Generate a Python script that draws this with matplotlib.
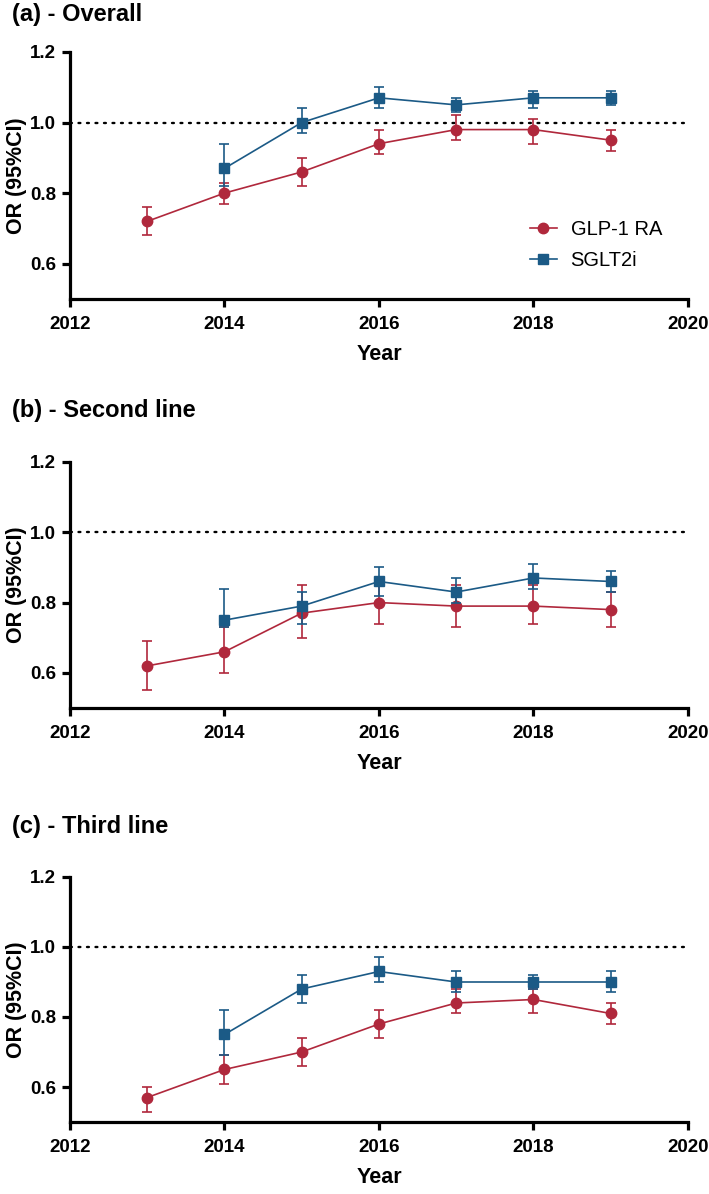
import matplotlib
matplotlib.use('Agg')
import matplotlib.pyplot as plt
from matplotlib.lines import Line2D

plt.rcParams['font.family'] = ['Liberation Sans', 'DejaVu Sans']

RED = '#B0283C'
BLUE = '#1B5A86'

panel_titles = ['(a) - Overall', '(b) - Second line', '(c) - Third line']

glp_years = [2013, 2014, 2015, 2016, 2017, 2018, 2019]
sglt_years = [2014, 2015, 2016, 2017, 2018, 2019]

# OR, lower CI, upper CI per panel
glp_or = [
    [0.72, 0.80, 0.86, 0.94, 0.98, 0.98, 0.95],
    [0.62, 0.66, 0.77, 0.80, 0.79, 0.79, 0.78],
    [0.57, 0.65, 0.70, 0.78, 0.84, 0.85, 0.81],
]
glp_lo = [
    [0.68, 0.77, 0.82, 0.91, 0.95, 0.94, 0.92],
    [0.55, 0.60, 0.70, 0.74, 0.73, 0.74, 0.73],
    [0.53, 0.61, 0.66, 0.74, 0.81, 0.81, 0.78],
]
glp_hi = [
    [0.76, 0.83, 0.90, 0.98, 1.02, 1.01, 0.98],
    [0.69, 0.73, 0.85, 0.87, 0.85, 0.85, 0.83],
    [0.60, 0.69, 0.74, 0.82, 0.88, 0.88, 0.84],
]
sglt_or = [
    [0.87, 1.00, 1.07, 1.05, 1.07, 1.07],
    [0.75, 0.79, 0.86, 0.83, 0.87, 0.86],
    [0.75, 0.88, 0.93, 0.90, 0.90, 0.90],
]
sglt_lo = [
    [0.82, 0.97, 1.04, 1.03, 1.04, 1.05],
    [0.73, 0.74, 0.82, 0.80, 0.84, 0.83],
    [0.69, 0.84, 0.90, 0.87, 0.88, 0.87],
]
sglt_hi = [
    [0.94, 1.04, 1.10, 1.07, 1.09, 1.09],
    [0.84, 0.83, 0.90, 0.87, 0.91, 0.89],
    [0.82, 0.92, 0.97, 0.93, 0.92, 0.93],
]

x_ticks = [2012, 2014, 2016, 2018, 2020]
y_ticks = [0.6, 0.8, 1.0, 1.2]

fig = plt.figure(figsize=(7.09, 11.94), dpi=100)

# axes boxes in figure fractions: left, bottom, width, height
boxes = [
    [0.0987, 0.7496, 0.8716, 0.2069],
    [0.0987, 0.4070, 0.8716, 0.2061],
    [0.0987, 0.0603, 0.8716, 0.2052],
]
title_y = [1 - 15 / 1194, 1 - 411 / 1194, 1 - 827 / 1194]

for i in range(3):
    ax = fig.add_axes(boxes[i])

    ax.axhline(1.0, color='black', lw=1.7, linestyle=(0, (0.8, 2.8)),
               dash_capstyle='round', zorder=1)

    g_err = [[o - l for o, l in zip(glp_or[i], glp_lo[i])],
             [h - o for o, h in zip(glp_or[i], glp_hi[i])]]
    s_err = [[o - l for o, l in zip(sglt_or[i], sglt_lo[i])],
             [h - o for o, h in zip(sglt_or[i], sglt_hi[i])]]

    ax.errorbar(glp_years, glp_or[i], yerr=g_err, color=RED, marker='o',
                markersize=7.5, lw=1.2, elinewidth=1.2, capsize=3.5,
                capthick=1.2, zorder=3)
    ax.errorbar(sglt_years, sglt_or[i], yerr=s_err, color=BLUE, marker='s',
                markersize=7, lw=1.2, elinewidth=1.2, capsize=3.5,
                capthick=1.2, zorder=4)

    ax.set_xlim(2012, 2020)
    ax.set_ylim(0.5, 1.2)
    ax.set_xticks(x_ticks)
    ax.set_yticks(y_ticks)
    ax.set_yticklabels([f'{v:.1f}' for v in y_ticks])

    for side in ['top', 'right']:
        ax.spines[side].set_visible(False)
    for side in ['left', 'bottom']:
        ax.spines[side].set_linewidth(2.3)
        ax.spines[side].set_capstyle('projecting')
    ax.tick_params(axis='both', width=2.3, length=6, labelsize=13.5)
    ax.tick_params(axis='x', pad=6)
    ax.tick_params(axis='y', pad=4)
    for lab in ax.get_xticklabels() + ax.get_yticklabels():
        lab.set_fontweight('bold')

    ax.set_xlabel('Year', fontsize=15.5, fontweight='bold', labelpad=8)
    ax.set_ylabel('OR (95%CI)', fontsize=15.5, fontweight='bold', labelpad=2)

    fig.text(0.017, title_y[i], panel_titles[i], fontsize=17,
             fontweight='bold', va='center', ha='left')

    if i == 0:
        handles = [
            Line2D([], [], color=RED, marker='o', markersize=7.5, lw=1.2),
            Line2D([], [], color=BLUE, marker='s', markersize=7, lw=1.2),
        ]
        ax.legend(handles, ['GLP-1 RA', 'SGLT2i'], loc='center left',
                  bbox_to_anchor=(0.745, 0.217), frameon=False, fontsize=14.5,
                  handlelength=1.3, handletextpad=0.7, labelspacing=0.6,
                  borderpad=0, borderaxespad=0)

fig.savefig('out.png', dpi=100)
